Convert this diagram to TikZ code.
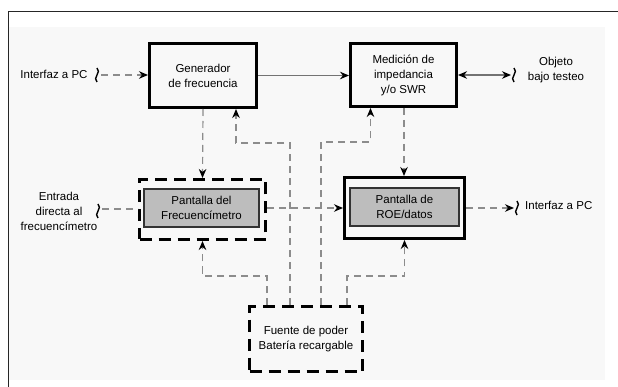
\documentclass[tikz,border=0pt]{standalone}
\usepackage{fontspec}
\setmainfont{Liberation Sans}
\usetikzlibrary{arrows.meta}

\definecolor{linegray}{HTML}{8C8C8C}
\definecolor{boxgray}{HTML}{BDBDBD}
\definecolor{paper}{HTML}{F8F8F8}

\tikzset{
	blk/.style={draw, line width=3pt, align=center, inner sep=0pt},
	dblk/.style={blk, dash pattern=on 12pt off 7pt},
	screen/.style={draw=black!80, line width=1.3pt, fill=boxgray, align=center, inner sep=0pt},
	tip/.style={-{Stealth[length=9pt,width=7.5pt,black]}},
	sig/.style={draw=black!55, line width=1.2pt},
	feed/.style={draw=linegray, line width=1.2pt, dash pattern=on 7pt off 5pt},
	lbl/.style={align=center, inner sep=0pt},
	brk/.pic={\draw[line width=1.4pt] (0,-7) .. controls (5,-3) and (-5,3) .. (0,7);}
}

\begin{document}
\begin{tikzpicture}[x=1pt, y=-1pt, font=\fontsize{11.5}{15}\selectfont]
	\useasboundingbox (0,0) rectangle (618,387);
	\fill[paper] (8,27) rectangle (605,380);
	\draw[line width=1pt, black!85] (618,12) -- (8,12) -- (8,387);

	% blocks
	\node[blk, minimum width=107pt, minimum height=64pt] (gen) at (203,75.5) {Generador\\de frecuencia};
	\node[blk, minimum width=106pt, minimum height=63pt] (med) at (403.5,75) {Medición de\\impedancia\\y/o SWR};
	\node[dblk, minimum width=126pt, minimum height=60pt] (frec) at (202.5,209.5) {};
	\node[screen, minimum width=115pt, minimum height=38pt] (frecin) at (201.5,208) {Pantalla del\\Frecuencímetro};
	\node[blk, minimum width=120pt, minimum height=61pt] (roe) at (404.5,208) {};
	\node[screen, minimum width=109pt, minimum height=38pt] (roein) at (404.5,207) {Pantalla de\\ROE/datos};
	\node[dblk, minimum width=113pt, minimum height=65pt] (fuente) at (306,339) {Fuente de poder\\Batería recargable};

	% outside labels
	\node[lbl] (pcizq) at (54,74) {Interfaz a PC};
	\node[lbl] (entrada) at (59,211) {Entrada\\directa al\\frecuencímetro};
	\node[lbl] (objeto) at (556,70) {Objeto\\bajo testeo};
	\node[lbl, anchor=west] (pcder) at (525,205) {Interfaz a PC};

	\pic at (97,75) {brk};
	\pic at (98,211) {brk};
	\pic at (514,75) {brk};
	\pic at (517,208) {brk};
	\coordinate (inpc) at (101,75);
	\coordinate (inent) at (102,209);
	\coordinate (obj) at (511,75);
	\coordinate (outpc) at (514,208);

	% signal paths
	\draw[feed, tip] (inpc) -- (gen.west |- inpc);
	\draw[sig, tip] (gen.east) -- (med.west |- gen.east);
	\draw[sig, {Stealth[length=9pt,width=7.5pt,black]}-{Stealth[length=9pt,width=7.5pt,black]}] (med.east) -- (obj);
	\draw[feed, tip] (gen.south) -- (frec.north);
	\draw[feed, tip] ([xshift=0.5pt]med.south) -- ([xshift=0.5pt]med.south |- roe.north);
	\draw[feed] (inent) -- (frec.west |- inent);
	\draw[feed, tip] ([yshift=1.5pt]frec.east) -- ([yshift=1.5pt]frec.east -| roe.west);
	\draw[feed, tip] (roe.east) -- (outpc);

	% power
	\draw[feed, tip] ([xshift=-16pt]fuente.north) |- ([xshift=33pt,yshift=-34pt]gen.south) -- ([xshift=33pt]gen.south);
	\draw[feed, tip] ([xshift=15pt]fuente.north) |- ([xshift=-33pt,yshift=-34pt]med.south) -- ([xshift=-33pt]med.south);
	\draw[feed, tip] ([xshift=-39pt]fuente.north) |- ([yshift=-35pt]frec.south) -- (frec.south);
	\draw[feed, tip] ([xshift=41pt]fuente.north) |- ([yshift=-36pt]roe.south) -- (roe.south);
\end{tikzpicture}
\end{document}
